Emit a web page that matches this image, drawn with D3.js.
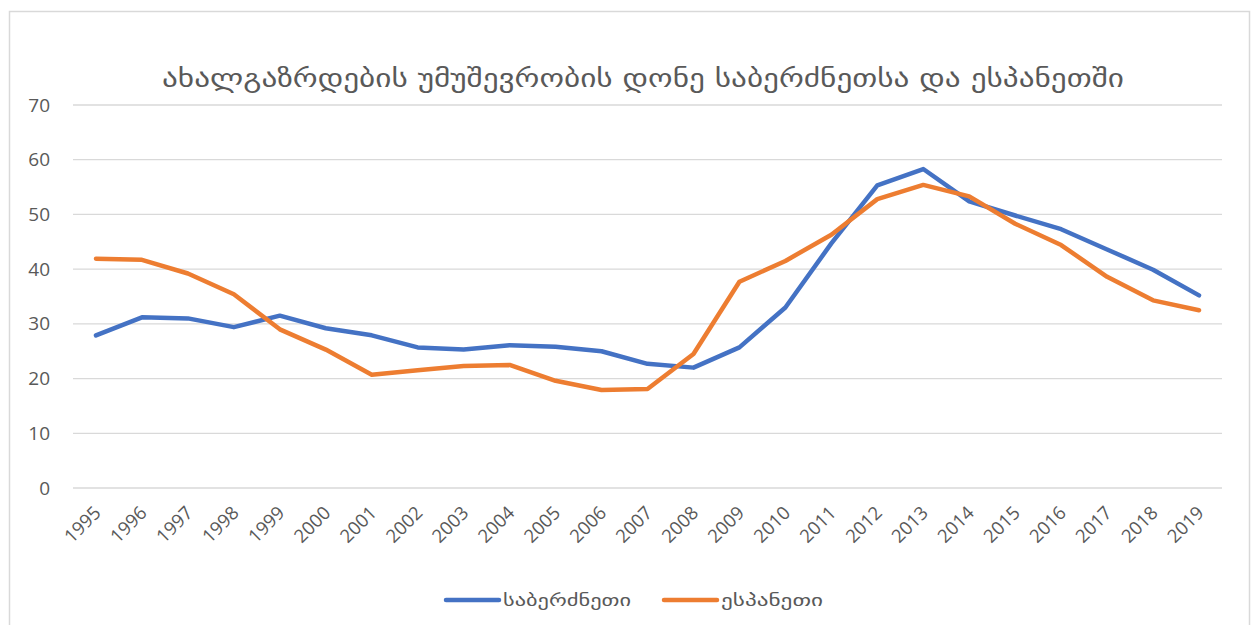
<!DOCTYPE html>
<html lang="ka">
<head>
<meta charset="utf-8">
<title>ახალგაზრდების უმუშევრობის დონე</title>
<style>
  body { margin: 0; background: #fff; }
  .grid line { stroke: #d9d9d9; stroke-width: 1.3px; }
  .tick text { fill: #595959; }
  .series { fill: none; stroke-width: 4.5px; stroke-linejoin: round; stroke-linecap: round; }
</style>
</head>
<body>
<div id="chart"></div>
<script src="https://cdn.jsdelivr.net/npm/d3@7"></script>
<script>
var width = 1257,
    height = 625;

var title = "ახალგაზრდების უმუშევრობის დონე საბერძნეთსა და ესპანეთში";
var years = ["1995","1996","1997","1998","1999","2000","2001","2002","2003","2004","2005","2006","2007",
             "2008","2009","2010","2011","2012","2013","2014","2015","2016","2017","2018","2019"];
var greece = [27.9, 31.2, 31.0, 29.4, 31.5, 29.2, 27.9, 25.7, 25.3, 26.1, 25.8, 25.0, 22.7,
              22.0, 25.7, 33.0, 44.7, 55.3, 58.3, 52.4, 49.8, 47.3, 43.6, 39.9, 35.2];
var spain = [41.9, 41.7, 39.2, 35.4, 29.0, 25.3, 20.7, 21.5, 22.3, 22.5, 19.6, 17.9, 18.1,
             24.5, 37.7, 41.5, 46.3, 52.8, 55.4, 53.3, 48.3, 44.4, 38.6, 34.3, 32.5];
var seriesNames = ["საბერძნეთი", "ესპანეთი"];
var colors = ["#4472c4", "#ed7d31"];
var yTicks = [0, 10, 20, 30, 40, 50, 60, 70];

var margin = {left: 73, right: 35, top: 105, bottom: 137};

var svg = d3.select("#chart")
    .append("svg")
    .attr("width", width)
    .attr("height", height)
    .style("display", "block");

// chart frame
svg.append("rect")
    .attr("x", 9.5).attr("y", 11.5)
    .attr("width", 1240).attr("height", 640)
    .attr("fill", "#fff")
    .attr("stroke", "#d9d9d9")
    .attr("stroke-width", 1.5);

var x = d3.scaleBand()
    .domain(years)
    .range([margin.left, width - margin.right]);

var y = d3.scaleLinear()
    .domain([0, 70])
    .range([height - margin.bottom, margin.top]);

// gridlines
svg.append("g")
    .attr("class", "grid")
    .selectAll("line")
    .data(yTicks)
  .enter().append("line")
    .attr("x1", margin.left)
    .attr("x2", width - margin.right)
    .attr("y1", function(d) { return y(d); })
    .attr("y2", function(d) { return y(d); });

// y axis labels
var yAxis = svg.append("g")
    .attr("transform", "translate(" + margin.left + ",0)")
    .call(d3.axisLeft(y).tickValues(yTicks).tickSize(0).tickPadding(23));
yAxis.select(".domain").remove();
yAxis.selectAll("text")
    .style("font-family", "'Open Sans', 'Liberation Sans', sans-serif")
    .style("font-size", "19px");

// x axis labels
var xAxis = svg.append("g")
    .attr("transform", "translate(0," + y(0) + ")")
    .call(d3.axisBottom(x).tickSize(0).tickPadding(0));
xAxis.select(".domain").remove();
xAxis.selectAll("text")
    .style("font-family", "'Open Sans', 'Liberation Sans', sans-serif")
    .style("font-size", "18.5px")
    .attr("text-anchor", "end")
    .attr("dy", null)
    .attr("y", 0)
    .attr("transform", "translate(6,26) rotate(-45)");

// lines
var line = d3.line()
    .x(function(d, i) { return x(years[i]) + x.bandwidth() / 2; })
    .y(function(d) { return y(d); });

[greece, spain].forEach(function(s, i) {
  svg.append("path")
      .attr("class", "series")
      .attr("d", line(s))
      .attr("stroke", colors[i]);
});

// title
svg.append("text")
    .attr("x", 643)
    .attr("y", 87)
    .attr("text-anchor", "middle")
    .attr("fill", "#595959")
    .style("font-family", "'DejaVu Sans', sans-serif")
    .style("font-size", "25px")
    .attr("textLength", 962)
    .attr("lengthAdjust", "spacingAndGlyphs")
    .text(title);

// legend
var legendX = [446, 664];
var legendW = [128, 102];
seriesNames.forEach(function(name, i) {
  var g = svg.append("g").attr("transform", "translate(" + legendX[i] + ",600)");
  g.append("line")
      .attr("x1", 0).attr("x2", 53)
      .attr("stroke", colors[i])
      .attr("stroke-width", 4.5)
      .attr("stroke-linecap", "round");
  g.append("text")
      .attr("x", 57)
      .attr("y", 6)
      .attr("fill", "#595959")
      .style("font-family", "'DejaVu Sans', sans-serif")
      .style("font-size", "17px")
      .attr("textLength", legendW[i])
      .attr("lengthAdjust", "spacingAndGlyphs")
      .text(name);
});
</script>
</body>
</html>
